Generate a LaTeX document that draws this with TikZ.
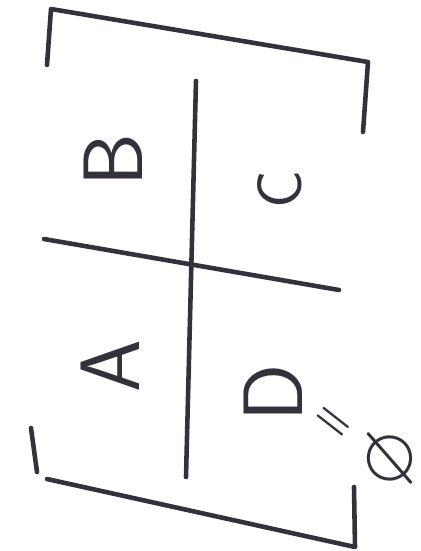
\documentclass[tikz,border=0pt]{standalone}
\usepackage{amssymb}
\definecolor{ink}{HTML}{34303C}
\tikzset{
  pen/.style={line width=2.6pt, ink, line cap=round, line join=round},
  letter/.style={text=ink, rotate=90, inner sep=0pt, font=\sffamily\fontsize{48}{48}\selectfont}
}
\begin{document}
\begin{tikzpicture}[x=0.02cm, y=-0.02cm]
        \useasboundingbox (0,0) rectangle (421,551);
        % Cornice
        \draw[pen] (47,65) -- (51,9) -- (368,62) -- (363,132);
        \draw[pen] (31,428) -- (37,472);
        \draw[pen] (47,479) -- (355,547) -- (354,487);
        
        % Assi
        \draw[pen] (196,81) -- (186,477);
        \draw[pen] (44,239) -- (339,290);
        
        % Insiemi
        \node[letter] (B) at (113,160) {B};
        \node[letter, font=\sffamily\fontsize{36}{36}\selectfont] (C) at (280,189) {C};
        \node[letter] (A) at (110,366) {A};
        \node[letter] (D) at (273,393) {D};
        \node[text=ink, rotate=-38, font=\fontsize{24}{24}\selectfont\boldmath] (eq) at (332,424) {$=$};
        \node[text=ink, rotate=90, font=\fontsize{44}{44}\selectfont] (vuoto) at (393,458) {$\varnothing$};
    \end{tikzpicture}
\end{document}
